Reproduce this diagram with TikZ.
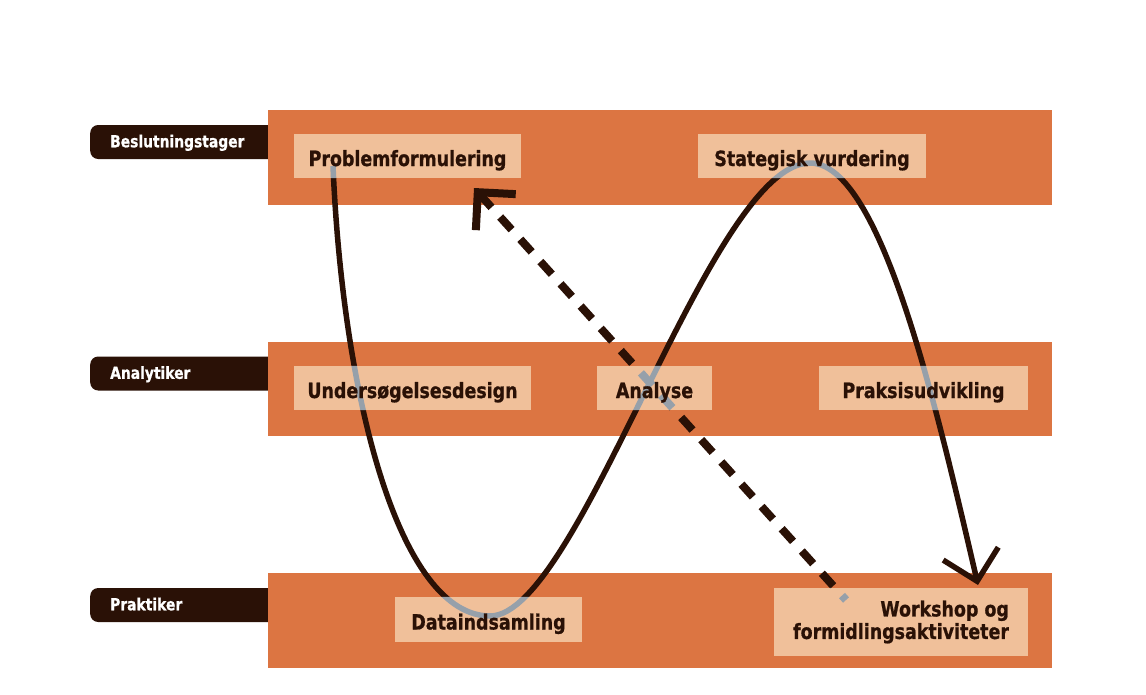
\documentclass[tikz,border=0pt]{standalone}
\usepackage{fontspec}
\setmainfont{DejaVu Sans}[FakeStretch=0.83,BoldFeatures={FakeBold=0.8}]
\usepackage{xcolor}
\usepackage{tikz}
\usetikzlibrary{arrows.meta,positioning}
\definecolor{lanecol}{RGB}{220,117,66}
\definecolor{boxcol}{RGB}{240,192,154}
\definecolor{ink}{RGB}{42,17,6}
\definecolor{shadecol}{RGB}{150,160,170}
\pgfdeclarelayer{lanes}
\pgfdeclarelayer{lines}
\pgfdeclarelayer{boxes}
\pgfdeclarelayer{shade}
\pgfsetlayers{lanes,lines,boxes,shade,main}

\begin{document}
\begin{tikzpicture}[
    x=1pt,y=-1pt,
    lane/.style={fill=lanecol,minimum width=784pt,minimum height=#1,inner sep=0pt,outer sep=0pt},
    role/.style={fill=ink,text=white,rounded corners=8pt,minimum height=34pt,text width=150pt,text height=10.6pt,text depth=0pt,inner xsep=20pt,inner ysep=0pt,align=left,anchor=west,font=\fontsize{16.7}{19}\selectfont\bfseries},
    taskbase/.style={text=ink,minimum width=#1,minimum height=44pt,inner sep=0pt,font=\fontsize{21}{22.5}\selectfont\bfseries},
    task/.style={taskbase=#1,text height=20pt,text depth=0pt,align=center},
    flow/.style={line width=5.5pt,#1},
    back/.style={dash pattern=on 17pt off 13pt,dash phase=11pt,line width=8pt,#1}
]
\useasboundingbox (0,0) rectangle (1146,694);

\begin{pgfonlayer}{lanes}
\node[role] (rdm) at (90,142) {Beslutningstager};
\node[role] (rana) at (90,373.5) {Analytiker};
\node[role] (rprak) at (90,605) {Praktiker};
\node[lane=95pt] (top) at (660,157.5) {};
\node[lane=94pt] (mid) at (660,389) {};
\node[lane=95pt] (bot) at (660,620.5) {};
\end{pgfonlayer}

\node[task=227pt] (pf) at (407.5,156) {Problemformulering};
\node[task=228pt] (sv) at (812,156) {Stategisk vurdering};
\node[task=237pt] (ud) at (412.5,388) {Undersøgelsesdesign};
\node[task=115pt] (ana) at (654.5,388) {Analyse};
\node[task=209pt] (pu) at (923.5,388) {Praksisudvikling};
\node[task=187pt,minimum height=45pt] (da) at (488.5,619.5) {Dataindsamling};
\node[taskbase=254pt,minimum height=68pt,align=right] (wf) at (901,622) {Workshop og\hspace{6pt}\\formidlingsaktiviteter};

\coordinate (start) at (333,166);
\coordinate (low) at (490,616);
\coordinate (high) at (810,163);
\coordinate (tip) at (978,585);
\coordinate (dfrom) at (846,600);
\coordinate (dto) at (474,188);

\begin{pgfonlayer}{boxes}
\foreach \boxname in {pf,sv,ud,ana,pu,da,wf}
  \fill[boxcol] (\boxname.north west) rectangle (\boxname.south east);
\end{pgfonlayer}

\begin{pgfonlayer}{lines}
\draw[flow=ink,-{Straight Barb[angle=90:40pt]}] (start) .. controls +(10,234) and +(-90,0) .. (low)
  .. controls +(90,0) and +(-100,0) .. (high) .. controls +(70,0) and +(-43,-185) .. (tip);
\draw[back=ink,-{Straight Barb[angle=90:38pt]}] (dfrom) -- (dto);
\end{pgfonlayer}

\begin{pgfonlayer}{shade}
\begin{scope}
\clip (pf.north west) rectangle (pf.south east) (sv.north west) rectangle (sv.south east)
  (ud.north west) rectangle (ud.south east) (ana.north west) rectangle (ana.south east)
  (pu.north west) rectangle (pu.south east) (da.north west) rectangle (da.south east)
  (wf.north west) rectangle (wf.south east);
\draw[flow=shadecol] (start) .. controls +(10,234) and +(-90,0) .. (low)
  .. controls +(90,0) and +(-100,0) .. (high) .. controls +(70,0) and +(-43,-185) .. (tip);
\draw[back=shadecol] (dfrom) -- (dto);
\end{scope}
\end{pgfonlayer}

\end{tikzpicture}
\end{document}
